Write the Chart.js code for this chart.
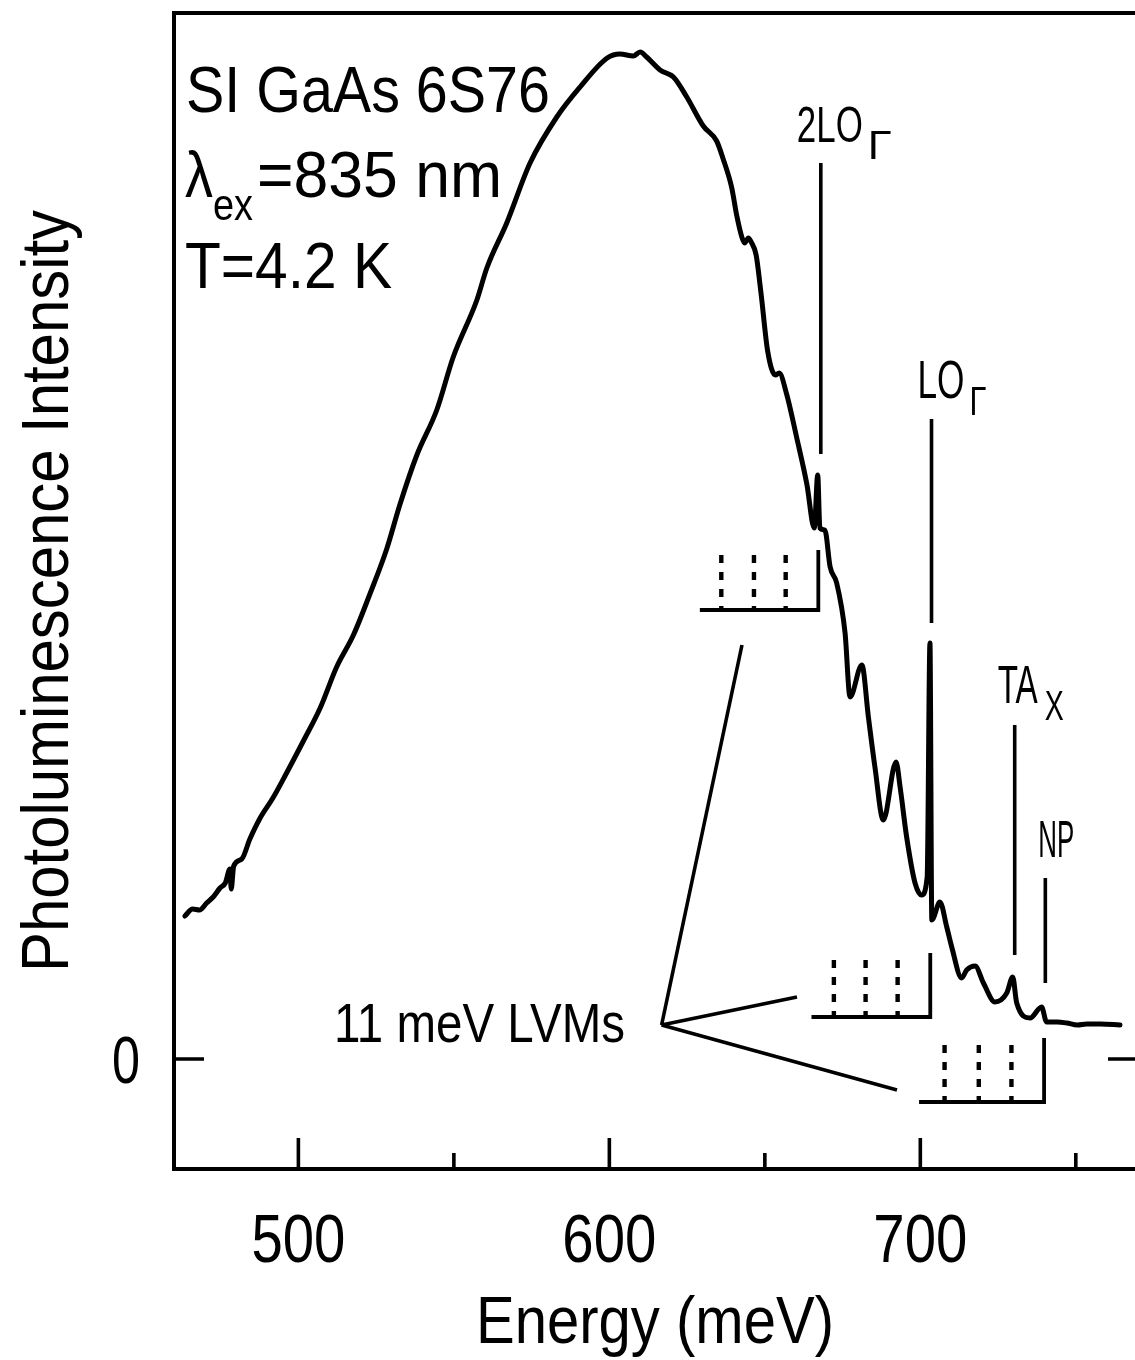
<!DOCTYPE html>
<html>
<head>
<meta charset="utf-8">
<title>SI GaAs 6S76 photoluminescence</title>
<script src="https://cdn.jsdelivr.net/npm/chart.js@4.4.1/dist/chart.umd.min.js"></script>
<style>
  html, body { margin: 0; padding: 0; background: #fff; overflow: hidden; }
  #wrap { width: 1135px; height: 1360px; overflow: hidden; }
</style>
</head>
<body>
<div id="wrap"><canvas id="plChart" width="1145" height="1360"></canvas></div>
<script>
// spectrum (energy in meV, intensity in arbitrary units)
const energy = [
  463.5, 466.0, 468.2, 470.5, 472.6, 474.8, 476.5, 478.0, 478.4, 479.2, 481.8, 484.4,
  487.7, 491.8, 496.2, 501.6, 507.0, 512.3, 517.7, 523.0, 528.4, 532.7, 538.1, 544.5,
  549.8, 557.4, 560.6, 567.0, 574.5, 583.1, 590.6, 599.3, 603.4, 607.7, 609.9, 612.0,
  616.3, 620.6, 624.9, 630.2, 634.5, 636.6, 639.3, 641.0, 642.6, 643.5, 644.7, 645.6,
  647.2, 648.8, 650.9, 653.4, 654.6, 657.0, 660.2, 663.5, 665.9, 667.0, 667.7, 669.3,
  671.0, 673.1, 675.8, 677.4, 681.2, 683.3, 685.4, 688.1, 692.2, 693.5, 695.6, 698.3,
  700.4, 702.2, 703.1, 703.7, 706.3, 708.5, 710.1, 713.3, 714.9, 717.6, 720.3, 724.0,
  727.8, 729.7, 731.0, 735.3, 739.0, 740.6, 744.0, 747.1, 750.5, 753.5, 758.0, 764.2
];
const intensity = [
  0.143, 0.150, 0.149, 0.156, 0.162, 0.171, 0.176, 0.190, 0.170, 0.193, 0.200, 0.220,
  0.241, 0.261, 0.286, 0.318, 0.351, 0.392, 0.424, 0.465, 0.510, 0.555, 0.604, 0.649,
  0.702, 0.759, 0.791, 0.836, 0.896, 0.942, 0.972, 1.001, 1.005, 1.003, 1.007, 1.002,
  0.989, 0.982, 0.962, 0.933, 0.918, 0.900, 0.872, 0.843, 0.822, 0.816, 0.821, 0.817,
  0.804, 0.765, 0.708, 0.684, 0.686, 0.665, 0.622, 0.575, 0.531, 0.584, 0.531, 0.529,
  0.492, 0.476, 0.426, 0.362, 0.394, 0.342, 0.292, 0.239, 0.297, 0.272, 0.222, 0.176,
  0.164, 0.182, 0.416, 0.139, 0.157, 0.132, 0.112, 0.081, 0.089, 0.093, 0.076, 0.057,
  0.066, 0.082, 0.056, 0.041, 0.052, 0.037, 0.037, 0.036, 0.034, 0.035, 0.035, 0.034
];

// axes
const xMin = 460, xMax = 770, yMin = -0.11, yMax = 1.046;
const xMajorTicks = [500, 600, 700];
const xMinorTicks = [550, 650, 750];
const yTicks = [0];
const xTickLabels = ['500', '600', '700'];
const yTickLabels = ['0'];

// phonon replica markers
const peakNames = ['2LO', 'LO', 'TA', 'NP'];
const peakSubs = ['\u0393', '\u0393', 'X', ''];
const peakEnergy = [668.0, 703.6, 730.35, 740.2];
const peakLineTop = [0.896, 0.640, 0.334, 0.181];
const peakLineBottom = [0.605, 0.436, 0.104, 0.076];

// 11 meV local vibrational mode ladders
const ladderEnergy = [667.2, 703.2, 739.8];
const ladderStart = [629.1, 665.0, 699.6];
const ladderBase = [0.449, 0.042, -0.043];
const ladderTop = [0.509, 0.106, 0.021];
const ladderDashTop = [0.504, 0.099, 0.014];
const ladderLvm = [[636.0, 646.5, 656.7], [672.2, 682.4, 692.7], [707.8, 718.8, 729.3]];
const lvmLabelPoint = [616.8, 0.034];
const lvmPointerEnds = [[642.65, 0.414], [660.34, 0.062], [692.5, -0.031]];

const FONT = '"Liberation Sans", Arial, sans-serif';

// build datasets
const seg = (pts, width, dash) => ({
  data: pts.map(p => ({ x: p[0], y: p[1] })),
  borderColor: '#000', borderWidth: width, borderDash: dash || [],
  pointRadius: 0, tension: 0, fill: false
});

const datasets = [{
  data: energy.map((e, i) => ({ x: e, y: intensity[i] })),
  borderColor: '#000', borderWidth: 5, pointRadius: 0,
  cubicInterpolationMode: 'monotone',
  borderJoinStyle: 'round', borderCapStyle: 'round', fill: false
}];
peakEnergy.forEach((e, i) => datasets.push(seg([[e, peakLineTop[i]], [e, peakLineBottom[i]]], 3.6)));
ladderEnergy.forEach((e, i) => {
  datasets.push(seg([[ladderStart[i], ladderBase[i]], [e, ladderBase[i]], [e, ladderTop[i]]], 3.8));
  ladderLvm[i].forEach(v => datasets.push(seg([[v, ladderDashTop[i]], [v, ladderBase[i]]], 4.4, [8, 9])));
});
lvmPointerEnds.forEach(p => datasets.push(seg([lvmLabelPoint, p], 3.6)));

// text squeezed to the width used on the figure
function fitText(ctx, text, x, y, size, width, align) {
  ctx.font = size + 'px ' + FONT;
  const w = ctx.measureText(text).width;
  ctx.save();
  ctx.translate(x, y);
  ctx.scale(width / w, 1);
  ctx.textBaseline = 'alphabetic';
  ctx.textAlign = 'left';
  ctx.fillText(text, align === 'center' ? -w / 2 : 0, 0);
  ctx.restore();
}

const framePlugin = {
  id: 'frame',
  afterDraw(chart) {
    const { ctx, chartArea: a, scales: { x, y } } = chart;
    ctx.save();
    ctx.strokeStyle = '#000';
    ctx.fillStyle = '#000';
    ctx.lineWidth = 4;
    ctx.strokeRect(a.left, a.top, a.right - a.left, a.bottom - a.top);

    // ticks pointing inward
    ctx.lineWidth = 3.6;
    ctx.beginPath();
    xMajorTicks.forEach(v => { const px = x.getPixelForValue(v); ctx.moveTo(px, a.bottom); ctx.lineTo(px, a.bottom - 31); });
    xMinorTicks.forEach(v => { const px = x.getPixelForValue(v); ctx.moveTo(px, a.bottom); ctx.lineTo(px, a.bottom - 16); });
    yTicks.forEach(v => {
      const py = y.getPixelForValue(v);
      ctx.moveTo(a.left, py); ctx.lineTo(a.left + 30, py);
      ctx.moveTo(a.right, py); ctx.lineTo(a.right - 30, py);
    });
    ctx.stroke();

    // tick labels
    xMajorTicks.forEach((v, i) => fitText(ctx, xTickLabels[i], x.getPixelForValue(v), 1262, 68, 94, 'center'));
    yTicks.forEach((v, i) => fitText(ctx, yTickLabels[i], 126, y.getPixelForValue(v) + 24, 66, 28, 'center'));

    // axis titles
    fitText(ctx, 'Energy (meV)', 476, 1343, 67, 358);
    ctx.save();
    ctx.translate(68, 972);
    ctx.rotate(-Math.PI / 2);
    fitText(ctx, 'Photoluminescence Intensity', 0, 0, 66, 762);
    ctx.restore();

    // sample info
    fitText(ctx, 'SI GaAs 6S76', 186, 112, 65, 364);
    fitText(ctx, '\u03bb', 185, 197, 65, 28);
    fitText(ctx, 'ex', 213, 220, 44, 40);
    fitText(ctx, '=835 nm', 257, 197, 65, 245);
    fitText(ctx, 'T=4.2 K', 185, 288, 65, 207);

    // phonon labels: offsets from the top of each marker line
    const lab = [
      { dx: -24, dy: -21, size: 50, w: 66, sx: 47, sdy: -4.5, ssize: 40, sw: 24 },
      { dx: -14, dy: -21, size: 53, w: 47, sx: 38, sdy: -4.5, ssize: 40, sw: 17 },
      { dx: -17, dy: -22, size: 53, w: 40, sx: 30, sdy: -5, ssize: 42, sw: 19 },
      { dx: -7, dy: -21, size: 52, w: 36, sx: 0, sdy: 0, ssize: 0, sw: 0 }
    ];
    peakNames.forEach((n, i) => {
      const px = x.getPixelForValue(peakEnergy[i]);
      const py = y.getPixelForValue(peakLineTop[i]);
      const L = lab[i];
      fitText(ctx, n, px + L.dx, py + L.dy, L.size, L.w);
      if (peakSubs[i]) fitText(ctx, peakSubs[i], px + L.sx, py + L.sdy, L.ssize, L.sw);
    });

    // LVM label
    fitText(ctx, '11 meV LVMs', 334, 1042, 56, 291);
    ctx.restore();
  }
};

const ctx = document.getElementById('plChart').getContext('2d');
const plChart = new Chart(ctx, {
  type: 'line',
  data: { datasets },
  options: {
    responsive: false,
    animation: false,
    devicePixelRatio: 1,
    layout: { padding: { left: 174, top: 13, right: 7, bottom: 191 } },
    plugins: { legend: { display: false }, tooltip: { enabled: false } },
    scales: {
      x: { type: 'linear', min: xMin, max: xMax, display: false },
      y: { type: 'linear', min: yMin, max: yMax, display: false }
    }
  },
  plugins: [framePlugin]
});
</script>
</body>
</html>
